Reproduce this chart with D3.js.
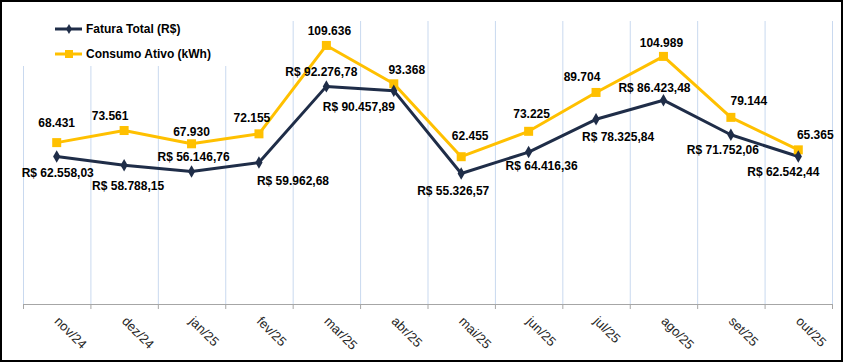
<!DOCTYPE html>
<html>
<head>
<meta charset="utf-8">
<script src="https://cdnjs.cloudflare.com/ajax/libs/d3/7.8.5/d3.min.js"></script>
<style>
  body { margin: 0; background: #fff; }
  svg text { font-family: "Liberation Sans", Arial, sans-serif; }
</style>
</head>
<body>
<div id="chart"></div>
<script>
// Data
const months = ["nov/24", "dez/24", "jan/25", "fev/25", "mar/25", "abr/25",
                "mai/25", "jun/25", "jul/25", "ago/25", "set/25", "out/25"];
const fatura = [62558.03, 58788.15, 56146.76, 59962.68, 92276.78, 90457.89,
                55326.57, 64416.36, 78325.84, 86423.48, 71752.06, 62542.44];
const consumo = [68431, 73561, 67930, 72155, 109636, 93368,
                 62455, 73225, 89704, 104989, 79144, 65365];
const yMax = 120000;

// Label placement (offset from the point, px)
const faturaLabelOffset = [[1, 16], [4, 20], [2, -15], [34, 18], [-5, -15], [-35, 16],
                           [-8, 17], [13, 14], [22, 18], [-9, -12], [-8, 15], [-15, 15]];
const consumoLabelOffset = [[0, -20], [-14, -15], [0, -12], [-7, -16], [3, -15], [13, -14],
                            [9, -21], [3, -18], [-14, -16], [-2, -14], [18, -17], [17, -15]];

const W = 843, H = 363;
const plot = { left: 23, right: 832, top: 21, bottom: 304 };
const navy = "#1f2d48", gold = "#ffc000";

const brl = v => "R$ " + v.toLocaleString("pt-BR", { minimumFractionDigits: 2, maximumFractionDigits: 2 });
const kwh = v => v.toLocaleString("pt-BR");

const svg = d3.select("#chart").append("svg")
  .attr("width", W)
  .attr("height", H);

svg.append("rect").attr("width", W).attr("height", H).attr("fill", "#fff");

const x = d3.scaleBand().domain(months).range([plot.left, plot.right]);
const xb = d3.scaleLinear().domain([0, months.length]).range([plot.left, plot.right]);
const y = d3.scaleLinear().domain([0, yMax]).range([plot.bottom, plot.top]);
const cx = (d, i) => x(months[i]) + x.bandwidth() / 2;

// Vertical grid at category boundaries
svg.append("g")
  .attr("transform", `translate(0,${plot.bottom})`)
  .call(d3.axisBottom(xb).ticks(months.length).tickSize(-(plot.bottom - plot.top)).tickFormat(""))
  .call(g => g.select(".domain").remove())
  .call(g => g.selectAll("line").attr("stroke", "#c9d9ef").attr("stroke-width", 1));

// Legend background hides grid
svg.append("rect")
  .attr("x", plot.left - 2).attr("y", plot.top - 2)
  .attr("width", 262).attr("height", 47)
  .attr("fill", "#fff");

// Axis with tick marks at boundaries
svg.append("g")
  .attr("transform", `translate(0,${plot.bottom})`)
  .call(d3.axisBottom(xb).ticks(months.length).tickSize(5).tickSizeOuter(5).tickFormat(""))
  .call(g => g.select(".domain").attr("stroke", "#a6a6a6"))
  .call(g => g.selectAll("line").attr("stroke", "#a6a6a6"));

// Category labels, rotated
svg.append("g")
  .selectAll("text")
  .data(months)
  .join("text")
  .attr("transform", d => `translate(${x(d) + x.bandwidth() / 2 - 3},${plot.bottom + 18}) rotate(45)`)
  .attr("text-anchor", "start")
  .attr("font-size", 13)
  .attr("fill", "#262626")
  .text(d => d);

// Lines
const line = d3.line().x(cx).y(d => y(d));

svg.append("path")
  .datum(consumo)
  .attr("fill", "none")
  .attr("stroke", gold)
  .attr("stroke-width", 3)
  .attr("stroke-linejoin", "round")
  .attr("d", line);

svg.append("path")
  .datum(fatura)
  .attr("fill", "none")
  .attr("stroke", navy)
  .attr("stroke-width", 3)
  .attr("stroke-linejoin", "round")
  .attr("d", line);

// Markers
const sq = 9;
svg.selectAll(".sq")
  .data(consumo)
  .join("rect")
  .attr("x", (d, i) => cx(d, i) - sq / 2)
  .attr("y", d => y(d) - sq / 2)
  .attr("width", sq).attr("height", sq)
  .attr("fill", gold);

const diamond = d3.symbol().type(d3.symbolDiamond).size(45);
svg.selectAll(".dm")
  .data(fatura)
  .join("path")
  .attr("d", diamond)
  .attr("transform", (d, i) => `translate(${cx(d, i)},${y(d)})`)
  .attr("fill", navy);

// Data labels
svg.append("g")
  .selectAll("text")
  .data(consumo)
  .join("text")
  .attr("x", (d, i) => cx(d, i) + consumoLabelOffset[i][0])
  .attr("y", (d, i) => y(d) + consumoLabelOffset[i][1])
  .attr("dy", "0.35em")
  .attr("text-anchor", "middle")
  .attr("font-size", 12)
  .attr("font-weight", "bold")
  .attr("fill", "#000")
  .text(kwh);

svg.append("g")
  .selectAll("text")
  .data(fatura)
  .join("text")
  .attr("x", (d, i) => cx(d, i) + faturaLabelOffset[i][0])
  .attr("y", (d, i) => y(d) + faturaLabelOffset[i][1])
  .attr("dy", "0.35em")
  .attr("text-anchor", "middle")
  .attr("font-size", 12)
  .attr("font-weight", "bold")
  .attr("fill", "#000")
  .text(brl);

// Legend
const legend = [
  { name: "Fatura Total (R$)", color: navy, marker: "diamond", y: 29 },
  { name: "Consumo Ativo (kWh)", color: gold, marker: "square", y: 54 }
];
const lg = svg.append("g").selectAll("g").data(legend).join("g")
  .attr("transform", d => `translate(55,${d.y})`);
lg.append("line")
  .attr("x1", 0).attr("x2", 27)
  .attr("stroke", d => d.color).attr("stroke-width", 3);
lg.filter(d => d.marker === "diamond").append("path")
  .attr("d", d3.symbol().type(d3.symbolDiamond).size(30))
  .attr("transform", "translate(14,0)")
  .attr("fill", d => d.color);
lg.filter(d => d.marker === "square").append("rect")
  .attr("x", 14 - 4).attr("y", -4).attr("width", 8).attr("height", 8)
  .attr("fill", d => d.color);
lg.append("text")
  .attr("x", 31).attr("dy", "0.35em")
  .attr("font-size", 12).attr("font-weight", "bold")
  .attr("fill", "#000")
  .text(d => d.name);

// Outer border
svg.append("rect")
  .attr("x", 1).attr("y", 1)
  .attr("width", W - 2).attr("height", H - 3)
  .attr("fill", "none")
  .attr("stroke", "#000")
  .attr("stroke-width", 2);
</script>
</body>
</html>
